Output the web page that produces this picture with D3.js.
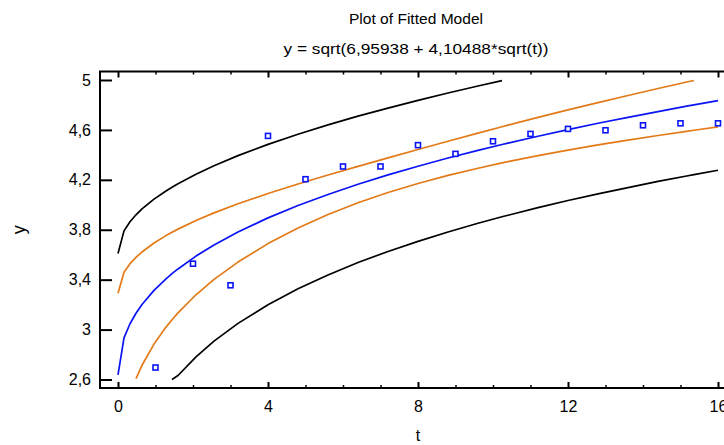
<!DOCTYPE html>
<html>
<head>
<meta charset="utf-8">
<script src="https://cdn.jsdelivr.net/npm/d3@7/dist/d3.min.js"></script>
<style>
  html, body { margin: 0; padding: 0; background: #fff; }
  svg { display: block; }
  text { font-family: "Liberation Sans", Arial, sans-serif; fill: #000; }
</style>
</head>
<body>
<svg id="chart" width="724" height="445"></svg>
<script>
// Sample positions along t for the fitted curve and its limits
const tGrid = [0, 0.16, 0.32, 0.48, 0.64, 0.96, 1.28, 1.44, 1.6, 2.08, 2.56, 3.2, 4, 4.8, 5.6, 6.4, 7.2, 8, 8.8, 9.6, 10.24, 10.4, 11.2, 12, 12.8, 13.6, 14.4, 15.2, 15.36, 16];

// Fitted model y = sqrt(6,95938 + 4,10488*sqrt(t))
const fitted = [2.638, 2.933, 3.047, 3.131, 3.201, 3.314, 3.406, 3.448, 3.486, 3.589, 3.678, 3.782, 3.895, 3.994, 4.083, 4.165, 4.240, 4.309, 4.375, 4.436, 4.483, 4.494, 4.549, 4.602, 4.653, 4.701, 4.747, 4.792, 4.801, 4.835];

// Confidence limits for the mean (null = outside the plotted range)
const upperConf = [3.291, 3.460, 3.528, 3.579, 3.622, 3.694, 3.753, 3.780, 3.805, 3.874, 3.935, 4.008, 4.090, 4.167, 4.239, 4.308, 4.376, 4.443, 4.509, 4.574, 4.625, 4.638, 4.700, 4.760, 4.819, 4.876, 4.932, 4.986, 4.996, null];
const lowerConf = [null, null, null, 2.607, 2.714, 2.884, 3.020, 3.079, 3.134, 3.279, 3.402, 3.541, 3.689, 3.814, 3.922, 4.016, 4.098, 4.171, 4.236, 4.293, 4.336, 4.346, 4.394, 4.438, 4.480, 4.518, 4.555, 4.590, 4.597, 4.624];

// Prediction limits for new observations
const upperPred = [3.610, 3.791, 3.864, 3.920, 3.967, 4.045, 4.111, 4.141, 4.169, 4.245, 4.313, 4.394, 4.484, 4.565, 4.640, 4.710, 4.775, 4.837, 4.896, 4.952, 4.995, null, null, null, null, null, null, null, null, null];
const lowerPred = [null, null, null, null, null, null, null, 2.600, 2.632, 2.782, 2.908, 3.050, 3.199, 3.327, 3.438, 3.537, 3.626, 3.707, 3.782, 3.852, 3.904, 3.916, 3.977, 4.034, 4.087, 4.138, 4.187, 4.233, 4.242, 4.277];

// Observed data
const obsT = [1, 2, 3, 4, 5, 6, 7, 8, 9, 10, 11, 12, 13, 14, 15, 16];
const obsY = [2.696, 3.528, 3.355, 4.552, 4.205, 4.307, 4.307, 4.478, 4.408, 4.509, 4.568, 4.608, 4.597, 4.637, 4.653, 4.653];

// Axis ticks and labels
const xTicks = [0, 4, 8, 12, 16];
const xLabels = ["0", "4", "8", "12", "16"];
const xMinorTicks = [1, 2, 3, 5, 6, 7, 9, 10, 11, 13, 14, 15];
const yTicks = [2.6, 3, 3.4, 3.8, 4.2, 4.6, 5];
const yLabels = ["2,6", "3", "3,4", "3,8", "4,2", "4,6", "5"];

const titleText = "Plot of Fitted Model";
const subtitleText = "y = sqrt(6,95938 + 4,10488*sqrt(t))";
const xTitle = "t";
const yTitle = "y";

const svg = d3.select("#chart");
const plotLeft = 100, plotRight = 736, plotTop = 71.5, plotBottom = 388;
const tickFont = "16px";

const x = d3.scaleLinear().domain([-0.48, 16.48]).range([plotLeft, plotRight]);
const y = d3.scaleLinear().domain([2.532, 5.068]).range([plotBottom, plotTop]);

// Titles
svg.append("text").attr("x", 416).attr("y", 24).attr("text-anchor", "middle")
  .style("font-size", "15px").attr("textLength", 134).attr("lengthAdjust", "spacingAndGlyphs")
  .text(titleText);
svg.append("text").attr("x", 416).attr("y", 54).attr("text-anchor", "middle")
  .style("font-size", "15px").attr("textLength", 265).attr("lengthAdjust", "spacingAndGlyphs")
  .text(subtitleText);

// Clip region for the plotted curves
svg.append("defs").append("clipPath").attr("id", "plotClip")
  .append("rect").attr("x", plotLeft).attr("y", plotTop)
  .attr("width", plotRight - plotLeft).attr("height", plotBottom - plotTop);

const plot = svg.append("g").attr("clip-path", "url(#plotClip)");

const line = d3.line()
  .defined(d => d[1] != null)
  .x(d => x(d[0]))
  .y(d => y(d[1]));

const series = [
  { values: upperPred, color: "#000000" },
  { values: lowerPred, color: "#000000" },
  { values: upperConf, color: "#e37a18" },
  { values: lowerConf, color: "#e37a18" },
  { values: fitted, color: "#0a14f5" }
];

series.forEach(s => {
  plot.append("path")
    .datum(tGrid.map((t, i) => [t, s.values[i]]))
    .attr("fill", "none")
    .attr("stroke", s.color)
    .attr("stroke-width", 1.7)
    .attr("stroke-linejoin", "round")
    .attr("d", line);
});

// Observed points as hollow squares
const sq = 5;
plot.selectAll("rect.obs")
  .data(obsT.map((t, i) => [t, obsY[i]]))
  .join("rect")
  .attr("class", "obs")
  .attr("x", d => x(d[0]) - sq / 2)
  .attr("y", d => y(d[1]) - sq / 2)
  .attr("width", sq)
  .attr("height", sq)
  .attr("fill", "#fff")
  .attr("stroke", "#0a14f5")
  .attr("stroke-width", 1.6);

// Axes with inward ticks
function styleAxis(g, width) {
  g.select(".domain").remove();
  g.selectAll(".tick line").attr("stroke", "#000").attr("stroke-width", width);
}

const xAxisBottom = d3.axisBottom(x).tickValues(xTicks)
  .tickFormat((d, i) => xLabels[i]).tickSizeInner(-6).tickSizeOuter(0).tickPadding(13);
svg.append("g").attr("transform", `translate(0,${plotBottom})`).call(xAxisBottom)
  .call(g => styleAxis(g, 2))
  .call(g => g.selectAll("text").style("font-size", tickFont).style("font-family", "Liberation Sans, Arial, sans-serif"));

svg.append("g").attr("transform", `translate(0,${plotBottom})`)
  .call(d3.axisBottom(x).tickValues(xMinorTicks).tickFormat("").tickSizeInner(-3).tickSizeOuter(0))
  .call(g => styleAxis(g, 1.5));

svg.append("g").attr("transform", `translate(0,${plotTop})`)
  .call(d3.axisTop(x).tickValues(xTicks).tickFormat("").tickSizeInner(-6).tickSizeOuter(0))
  .call(g => styleAxis(g, 2));
svg.append("g").attr("transform", `translate(0,${plotTop})`)
  .call(d3.axisTop(x).tickValues(xMinorTicks).tickFormat("").tickSizeInner(-3).tickSizeOuter(0))
  .call(g => styleAxis(g, 1.5));

const yAxisLeft = d3.axisLeft(y).tickValues(yTicks)
  .tickFormat((d, i) => yLabels[i]).tickSizeInner(-12).tickSizeOuter(0).tickPadding(9);
svg.append("g").attr("transform", `translate(${plotLeft},0)`).call(yAxisLeft)
  .call(g => styleAxis(g, 2))
  .call(g => g.selectAll("text").style("font-size", tickFont).style("font-family", "Liberation Sans, Arial, sans-serif"));

svg.append("g").attr("transform", `translate(${plotRight},0)`)
  .call(d3.axisRight(y).tickValues(yTicks).tickFormat("").tickSizeInner(-12).tickSizeOuter(0))
  .call(g => styleAxis(g, 2));

// Plot frame
svg.append("rect")
  .attr("x", plotLeft).attr("y", plotTop)
  .attr("width", plotRight - plotLeft).attr("height", plotBottom - plotTop)
  .attr("fill", "none").attr("stroke", "#000").attr("stroke-width", 2);

// Axis titles
svg.append("text").attr("x", x(8)).attr("y", 441).attr("text-anchor", "middle")
  .style("font-size", "16px").text(xTitle);
svg.append("text").attr("transform", `translate(25,${y(3.8)}) rotate(-90)`).attr("text-anchor", "middle")
  .style("font-size", "18px").text(yTitle);
</script>
</body>
</html>
